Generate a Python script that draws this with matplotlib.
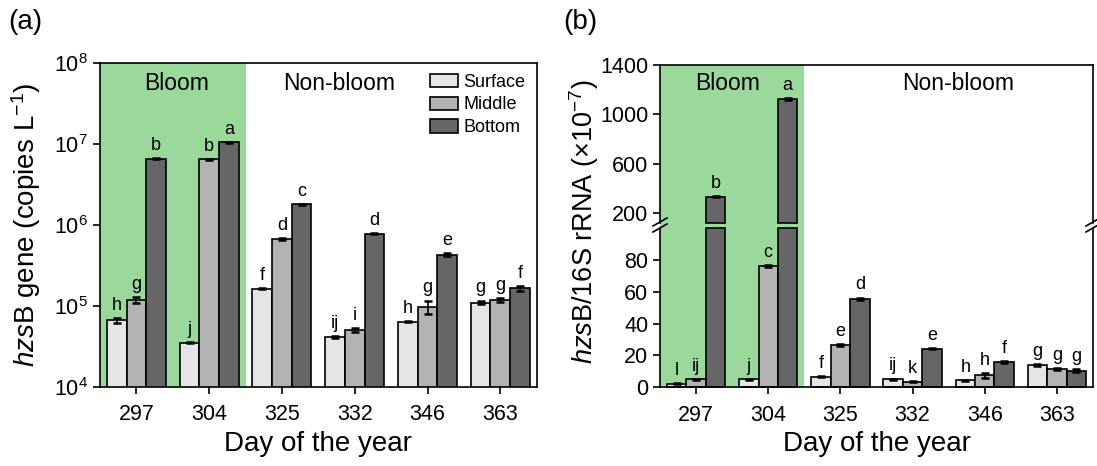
import numpy as np
import matplotlib
matplotlib.use('Agg')
import matplotlib.pyplot as plt
from matplotlib.lines import Line2D
from matplotlib.patches import Patch
from matplotlib.ticker import NullLocator, FixedLocator

plt.rcParams['font.family'] = ['Liberation Sans', 'DejaVu Sans']
plt.rcParams['mathtext.fontset'] = 'custom'
plt.rcParams['mathtext.rm'] = 'Liberation Sans'
plt.rcParams['mathtext.it'] = 'Liberation Sans:italic'

days = ['297', '304', '325', '332', '346', '363']
depths = ['Surface', 'Middle', 'Bottom']
colors = ['#e5e5e5', '#b3b3b3', '#666666']
green = '#9ad89c'

# (a) hzsB gene copies per litre
gene_surface = [6.6e4, 3.5e4, 1.63e5, 4.1e4, 6.4e4, 1.1e5]
gene_middle = [1.18e5, 6.5e6, 6.7e5, 5.0e4, 9.8e4, 1.18e5]
gene_bottom = [6.6e6, 1.05e7, 1.8e6, 7.8e5, 4.3e5, 1.65e5]
gene_err_surface = [5e3, 3e2, 2e3, 1.5e3, 1.5e3, 6e3]
gene_err_middle = [1e4, 1e5, 1.5e4, 2.5e3, 1.8e4, 7e3]
gene_err_bottom = [1e5, 1.5e5, 3e4, 1.2e4, 1.5e4, 1.2e4]
gene_letters = [['h', 'j', 'f', 'ij', 'h', 'g'],
                ['g', 'b', 'd', 'i', 'g', 'g'],
                ['b', 'a', 'c', 'd', 'e', 'f']]

# (b) hzsB / 16S rRNA ratio (x10^-7)
ratio_surface = [2.1, 5.0, 6.7, 5.2, 4.4, 14.0]
ratio_middle = [5.0, 76.4, 26.7, 3.6, 7.5, 11.5]
ratio_bottom = [330, 1122, 55.6, 24.2, 15.9, 10.4]
ratio_err_surface = [0.3, 0.3, 0.3, 0.3, 0.3, 0.7]
ratio_err_middle = [0.3, 0.5, 0.6, 0.3, 1.6, 0.6]
ratio_err_bottom = [4, 8, 0.8, 0.3, 0.5, 1.0]
ratio_letters = [['l', 'j', 'f', 'ij', 'h', 'g'],
                 ['ij', 'c', 'e', 'k', 'h', 'g'],
                 ['b', 'a', 'd', 'e', 'f', 'g']]

bloom_days = 2
low_max = 100
high_min = 120

gene = [gene_surface, gene_middle, gene_bottom]
gene_err = [gene_err_surface, gene_err_middle, gene_err_bottom]
ratio = [ratio_surface, ratio_middle, ratio_bottom]
ratio_err = [ratio_err_surface, ratio_err_middle, ratio_err_bottom]

W, H = 1097, 466
fig = plt.figure(figsize=(W / 100, H / 100), dpi=100)

x = np.arange(len(days))
width = 0.27
offsets = [-width, 0, width]
tick_fs = 15.5
letter_fs = 13


def style_axis(ax):
    for sp in ax.spines.values():
        sp.set_linewidth(1.2)
    ax.tick_params(direction='out', length=5, width=1.2, labelsize=tick_fs)
    ax.tick_params(axis='x', pad=7.5)
    ax.set_xlim(-0.5, len(days) - 0.5)
    ax.patch.set_visible(False)


# ---------- panel (a) ----------
ax = fig.add_axes([100 / W, 1 - 386.7 / H, 436.7 / W, 323.4 / H])
style_axis(ax)
ax.axvspan(-0.5, bloom_days - 0.5, color=green, zorder=0, lw=0)
ax.set_yscale('log')
ax.set_ylim(1e4, 1e8)
ax.yaxis.set_minor_locator(NullLocator())
for i in range(3):
    v = np.array(gene[i])
    e = np.array(gene_err[i])
    ax.bar(x + offsets[i], v, width, color=colors[i], edgecolor='black',
           linewidth=1.2, zorder=2, label=depths[i])
    ax.errorbar(x + offsets[i], v, yerr=e, fmt='none', ecolor='black',
                elinewidth=1.2, capsize=3, capthick=1.8, zorder=3)
    for j in range(len(days)):
        ax.annotate(gene_letters[i][j], (x[j] + offsets[i], v[j] + e[j]),
                    xytext=(0, 3), textcoords='offset points',
                    ha='center', va='bottom', fontsize=letter_fs)
ax.set_xticks(x)
ax.set_xticklabels(days)
ax.set_xlabel('Day of the year', fontsize=20, labelpad=4)
ax.set_ylabel(r'$\it{hzs}$B gene (copies L$^{-1}$)', fontsize=20, labelpad=8)
ax.text(0.55, 0.939, 'Bloom', transform=ax.get_xaxis_transform(),
        ha='center', va='center', fontsize=16.5)
ax.text(2.79, 0.939, 'Non-bloom', transform=ax.get_xaxis_transform(),
        ha='center', va='center', fontsize=16.5)
handles = [Patch(facecolor=colors[i], edgecolor='black', linewidth=1.2,
                 label=depths[i]) for i in range(3)]
ax.legend(handles=handles, loc='upper left', bbox_to_anchor=(0.755, 0.968),
          frameon=False, fontsize=13, handlelength=1.55, handleheight=0.75,
          handletextpad=0.3, labelspacing=0.32, borderpad=0, borderaxespad=0)

# ---------- panel (b), broken axis ----------
ax_lo = fig.add_axes([660 / W, 1 - 387.3 / H, 433 / W, 159.1 / H])
ax_hi = fig.add_axes([660 / W, 1 - 222.7 / H, 433 / W, 157.7 / H])
for a in (ax_lo, ax_hi):
    style_axis(a)
ax_lo.set_ylim(0, low_max)
ax_hi.set_ylim(high_min, 1400)
ax_lo.yaxis.set_major_locator(FixedLocator([0, 20, 40, 60, 80]))
ax_hi.yaxis.set_major_locator(FixedLocator([200, 600, 1000, 1400]))
ax_lo.spines['top'].set_visible(False)
ax_hi.spines['bottom'].set_visible(False)
ax_hi.tick_params(axis='x', bottom=False, labelbottom=False)

ax_lo.axvspan(-0.5, bloom_days - 0.5, ymax=1.04, color=green, zorder=0,
              lw=0, clip_on=False)
ax_hi.axvspan(-0.5, bloom_days - 0.5, color=green, zorder=0, lw=0)

for i in range(3):
    v = np.array(ratio[i], dtype=float)
    e = np.array(ratio_err[i], dtype=float)
    xs = x + offsets[i]
    ax_lo.bar(xs, np.minimum(v, low_max), width, color=colors[i],
              edgecolor='black', linewidth=1.2, zorder=2, clip_on=False)
    big = v > low_max
    if big.any():
        ax_hi.bar(xs[big], v[big] - high_min, width, bottom=high_min,
                  color=colors[i], edgecolor='black', linewidth=1.2,
                  zorder=2, clip_on=False)
        ax_hi.errorbar(xs[big], v[big], yerr=e[big], fmt='none',
                       ecolor='black', elinewidth=1.2, capsize=3,
                       capthick=1.8, zorder=3)
    small = ~big
    ax_lo.errorbar(xs[small], v[small], yerr=e[small], fmt='none',
                   ecolor='black', elinewidth=1.2, capsize=3, capthick=1.8,
                   zorder=3)
    for j in range(len(days)):
        target = ax_hi if v[j] > low_max else ax_lo
        target.annotate(ratio_letters[i][j], (xs[j], v[j] + e[j]),
                        xytext=(0, 3), textcoords='offset points',
                        ha='center', va='bottom', fontsize=letter_fs)

ax_lo.set_xticks(x)
ax_lo.set_xticklabels(days)
ax_lo.set_xlabel('Day of the year', fontsize=20, labelpad=4)
ax_hi.set_xticks(x)
ax_hi.text(0.43, 0.884, 'Bloom', transform=ax_hi.get_xaxis_transform(),
           ha='center', va='center', fontsize=16.5)
ax_hi.text(3.63, 0.884, 'Non-bloom', transform=ax_hi.get_xaxis_transform(),
           ha='center', va='center', fontsize=16.5)
fig.text(584 / W, 1 - 222 / H, r'$\it{hzs}$B/16S rRNA (×10$^{-7}$)',
         rotation=90, ha='center', va='center', fontsize=19.5)

# break marks on both spines
for xs_px in (660, 1093):
    for yc in (222.0, 228.0):
        fig.add_artist(Line2D([(xs_px - 7) / W, (xs_px + 7) / W],
                              [1 - (yc + 4) / H, 1 - (yc - 4) / H],
                              color='black', lw=1.2,
                              transform=fig.transFigure))

# panel labels
fig.text(25 / W, 1 - 22 / H, '(a)', ha='center', va='center', fontsize=20)
fig.text(580 / W, 1 - 22 / H, '(b)', ha='center', va='center', fontsize=20)

fig.savefig('out.png', dpi=100)
